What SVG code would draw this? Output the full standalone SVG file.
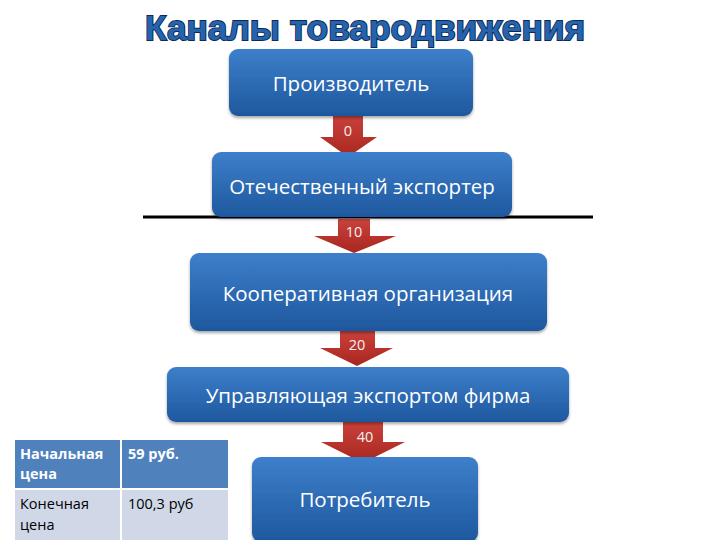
<svg xmlns="http://www.w3.org/2000/svg" width="720" height="540" viewBox="0 0 720 540">
<defs>
<linearGradient id="gb" x1="0" y1="0" x2="0" y2="1">
<stop offset="0" stop-color="#3d7fcb"/>
<stop offset="1" stop-color="#1e589e"/>
</linearGradient>
<linearGradient id="gr" x1="0" y1="0" x2="0" y2="1">
<stop offset="0" stop-color="#c9413a"/>
<stop offset="1" stop-color="#a82720"/>
</linearGradient>
<filter id="sh" x="-10%" y="-10%" width="120%" height="130%">
<feDropShadow dx="0" dy="2" stdDeviation="1.5" flood-color="#000" flood-opacity="0.35"/>
</filter>
</defs>
<style>
.box{fill:url(#gb);filter:url(#sh)}
.bt{fill:#fff;font-family:"Open Sans","Noto Sans",sans-serif;font-size:20.5px;text-anchor:middle}
.arr{fill:url(#gr)}
.at{fill:#f2f2f2;font-family:"Open Sans","Noto Sans",sans-serif;font-size:14.5px;text-anchor:middle}
.tt{font-family:"Open Sans","Noto Sans",sans-serif;font-size:14.5px}
</style>
<rect width="720" height="540" fill="#fff"/>
<text x="365" y="40" text-anchor="middle" font-family="'Liberation Sans',Arial,sans-serif" font-weight="bold" font-size="35" fill="#2563ad" stroke="#0d2a55" stroke-width="1.8" paint-order="stroke" textLength="440" lengthAdjust="spacingAndGlyphs">Каналы товародвижения</text>
<g id="connectors">
<g id="a0"><path class="arr" d="M333 116 H363 V137 H377 L348 157 L320 137 H333 Z"/><text class="at" x="348" y="136">0</text></g>
<line x1="143" y1="217" x2="593" y2="217" stroke="#000" stroke-width="3"/>
<g id="a10"><path class="arr" d="M338 219 H370 V236 H396 L354 253 L314 236 H338 Z"/><text class="at" x="354" y="237">10</text></g>
<g id="a20"><path class="arr" d="M340 331 H375 V348 H393 L357 366 L320 348 H340 Z"/><text class="at" x="357" y="350">20</text></g>
<g id="a40"><path class="arr" d="M343 422 H383 V442 H405 L363 463 L321 442 H343 Z"/><text class="at" x="365" y="442">40</text></g>
</g>
<g id="n1"><rect class="box" x="229" y="49" width="244" height="67" rx="9"/><text class="bt" x="351" y="91">Производитель</text></g>
<g id="n2"><rect class="box" x="212" y="152" width="300" height="65" rx="9"/><text class="bt" x="362" y="194">Отечественный экспортер</text></g>
<g id="n3"><rect class="box" x="190" y="253" width="357" height="78" rx="9"/><text class="bt" x="368" y="301">Кооперативная организация</text></g>
<g id="n4"><rect class="box" x="167" y="367" width="402" height="55" rx="9"/><text class="bt" x="368" y="403">Управляющая экспортом фирма</text></g>
<g id="n5"><rect class="box" x="252" y="457" width="226" height="85" rx="9"/><text class="bt" x="365" y="507">Потребитель</text></g>
<g id="table">
<rect x="15" y="440" width="213" height="48" fill="#4f81bd"/>
<rect x="15" y="490" width="213" height="50" fill="#d0d8e8"/>
<line x1="121" y1="440" x2="121" y2="540" stroke="#fff" stroke-width="2"/>
<text class="tt" x="20" y="459" fill="#fff" font-weight="bold">Начальная</text>
<text class="tt" x="20" y="479" fill="#fff" font-weight="bold">цена</text>
<text class="tt" x="128" y="459" fill="#fff" font-weight="bold">59 руб.</text>
<text class="tt" x="20" y="509" fill="#000">Конечная</text>
<text class="tt" x="20" y="530" fill="#000">цена</text>
<text class="tt" x="128" y="509" fill="#000">100,3 руб</text>
</g>
</svg>
